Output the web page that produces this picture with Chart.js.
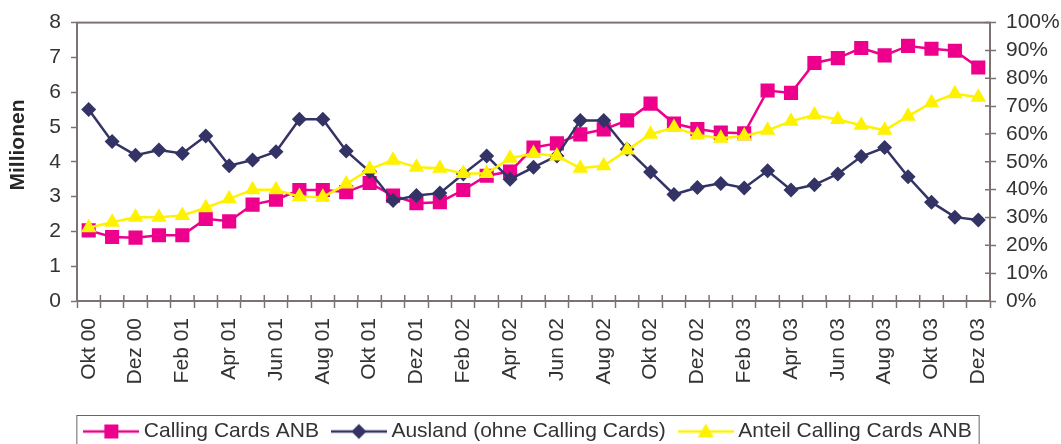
<!DOCTYPE html>
<html>
<head>
<meta charset="utf-8">
<script src="https://cdn.jsdelivr.net/npm/chart.js@4"></script>
<style>
  html, body { margin: 0; padding: 0; background: #fff; }
</style>
</head>
<body>
<canvas id="chart" width="1061" height="444"></canvas>
<script>
const monate = [
  "Okt 00", "Nov 00", "Dez 00",
  "Jan 01", "Feb 01", "Mrz 01", "Apr 01", "Mai 01", "Jun 01", "Jul 01", "Aug 01", "Sep 01", "Okt 01", "Nov 01", "Dez 01",
  "Jan 02", "Feb 02", "Mrz 02", "Apr 02", "Mai 02", "Jun 02", "Jul 02", "Aug 02", "Sep 02", "Okt 02", "Nov 02", "Dez 02",
  "Jan 03", "Feb 03", "Mrz 03", "Apr 03", "Mai 03", "Jun 03", "Jul 03", "Aug 03", "Sep 03", "Okt 03", "Nov 03", "Dez 03"
];

// Millionen
const callingCards = [
  2.03, 1.84, 1.82, 1.89, 1.89, 2.36, 2.29, 2.77, 2.91, 3.19, 3.19, 3.13, 3.39,
  3.03, 2.81, 2.84, 3.19, 3.60, 3.72, 4.41, 4.53, 4.79, 4.93, 5.19, 5.67, 5.10,
  4.94, 4.84, 4.82, 6.05, 5.98, 6.84, 6.98, 7.27, 7.06, 7.33, 7.25, 7.19, 6.71
];
const ausland = [
  5.50, 4.58, 4.19, 4.34, 4.24, 4.74, 3.89, 4.05, 4.29, 5.22, 5.22, 4.31, 3.72,
  2.89, 3.03, 3.10, 3.65, 4.17, 3.50, 3.84, 4.17, 5.19, 5.19, 4.36, 3.71, 3.06,
  3.26, 3.38, 3.25, 3.74, 3.19, 3.34, 3.65, 4.15, 4.41, 3.57, 2.84, 2.41, 2.33
];
// Prozent
const anteil = [
  26.3, 28.3, 30.1, 30.1, 30.7, 33.5, 36.7, 40.0, 40.0, 37.5, 37.3, 42.0, 47.4,
  50.6, 48.0, 47.7, 45.8, 45.8, 51.3, 53.0, 52.1, 47.7, 48.6, 54.2, 59.9, 62.3,
  59.6, 58.5, 59.3, 61.3, 64.6, 66.8, 65.2, 63.1, 61.3, 66.4, 71.2, 74.4, 73.2
];

const yLinks = [0, 1, 2, 3, 4, 5, 6, 7, 8];
const yRechts = ["0%", "10%", "20%", "30%", "40%", "50%", "60%", "70%", "80%", "90%", "100%"];

const PINK = "#ec008c";
const NAVY = "#333366";
const GELB = "#fff200";
const ACHSE = "#7d7272";
const TEXT = "#333333";
const SCHRIFT = "'Liberation Sans', Arial, sans-serif";

function legendSymbol(color, shape) {
  const c = document.createElement("canvas");
  c.width = 56;
  c.height = 20;
  const g = c.getContext("2d");
  g.strokeStyle = color;
  g.lineWidth = 2.5;
  g.beginPath();
  g.moveTo(0, 10);
  g.lineTo(56, 10);
  g.stroke();
  g.fillStyle = color;
  g.beginPath();
  if (shape === "rect") {
    g.rect(21, 3, 14, 14);
  } else if (shape === "diamond") {
    g.moveTo(28, 2.5); g.lineTo(35.5, 10); g.lineTo(28, 17.5); g.lineTo(20.5, 10);
  } else {
    g.moveTo(28, 2); g.lineTo(36, 16); g.lineTo(20, 16);
  }
  g.closePath();
  g.fill();
  return c;
}

const symbole = [
  legendSymbol(PINK, "rect"),
  legendSymbol(NAVY, "diamond"),
  legendSymbol(GELB, "triangle")
];

const rahmen = {
  id: "rahmen",
  beforeDatasetsDraw(chart) {
    const { ctx, chartArea: a, scales } = chart;
    ctx.save();
    ctx.strokeStyle = ACHSE;
    ctx.lineWidth = 2;
    ctx.strokeRect(a.left, a.top, a.right - a.left, a.bottom - a.top);
    // Teilstriche, die in die Zeichenfläche hineinragen
    ctx.lineWidth = 1.5;
    ctx.beginPath();
    const x = scales.x;
    for (let i = 1; i < monate.length; i++) {
      const px = (x.getPixelForTick(i - 1) + x.getPixelForTick(i)) / 2;
      ctx.moveTo(px, a.bottom);
      ctx.lineTo(px, a.bottom - 6);
    }
    const y1 = scales.y1;
    yRechts.forEach((t, i) => {
      const py = y1.getPixelForValue(i * 10);
      ctx.moveTo(a.right, py);
      ctx.lineTo(a.right - 5, py);
    });
    ctx.stroke();
    ctx.restore();
  },
  afterDraw(chart) {
    const ctx = chart.ctx;
    const boxes = chart.legend.legendHitBoxes;
    if (boxes && boxes.length) {
      const left = Math.min(...boxes.map(b => b.left)) - 13;
      const right = Math.max(...boxes.map(b => b.left + b.width)) + 7;
      const top = boxes[0].top - 6;
      ctx.save();
      ctx.strokeStyle = "#666";
      ctx.lineWidth = 1;
      ctx.strokeRect(left + 0.5, top + 0.5, right - left, 60);
      ctx.restore();
    }
    // Achsentitel
    ctx.save();
    ctx.translate(18.5, 145);
    ctx.rotate(-Math.PI / 2);
    ctx.font = "bold 21px " + SCHRIFT;
    ctx.fillStyle = "#262626";
    ctx.textAlign = "center";
    ctx.textBaseline = "middle";
    ctx.fillText("Millionen", 0, 0);
    ctx.restore();
  }
};

new Chart(document.getElementById("chart"), {
  type: "line",
  data: {
    labels: monate,
    datasets: [
      {
        label: "Calling Cards ANB",
        data: callingCards,
        yAxisID: "y",
        borderColor: PINK,
        backgroundColor: PINK,
        borderWidth: 2.5,
        pointStyle: "rect",
        pointRadius: 10,
        pointBorderWidth: 0,
        tension: 0,
        order: 3
      },
      {
        label: "Ausland (ohne Calling Cards)",
        data: ausland,
        yAxisID: "y",
        borderColor: NAVY,
        backgroundColor: NAVY,
        borderWidth: 2.5,
        pointStyle: "rectRot",
        pointRadius: 7.5,
        pointBorderWidth: 0,
        tension: 0,
        order: 2
      },
      {
        label: "Anteil Calling Cards ANB",
        data: anteil,
        yAxisID: "y1",
        borderColor: GELB,
        backgroundColor: GELB,
        borderWidth: 2.5,
        pointStyle: "triangle",
        pointRadius: 9,
        pointBorderWidth: 0,
        tension: 0,
        order: 1
      }
    ]
  },
  options: {
    responsive: false,
    animation: false,
    layout: { padding: { top: 21, left: 0, right: 0, bottom: -8 } },
    plugins: {
      tooltip: { enabled: false },
      legend: {
        position: "bottom",
        labels: {
          usePointStyle: true,
          pointStyleWidth: 44,
          padding: 18,
          color: TEXT,
          font: { size: 21, family: SCHRIFT },
          generateLabels: chart => chart.data.datasets.map((ds, i) => ({
            text: ds.label,
            pointStyle: symbole[i],
            fillStyle: ds.borderColor,
            strokeStyle: ds.borderColor,
            lineWidth: 0,
            fontColor: TEXT,
            hidden: false,
            datasetIndex: i
          }))
        }
      }
    },
    scales: {
      x: {
        offset: true,
        grid: { offset: true, drawOnChartArea: false, tickLength: 7, color: ACHSE, tickWidth: 1.5 },
        border: { color: ACHSE, width: 2 },
        ticks: {
          autoSkip: false,
          minRotation: 90,
          maxRotation: 90,
          padding: 10,
          color: TEXT,
          font: { size: 21, family: SCHRIFT },
          callback: (v, i) => (i % 2 === 0 ? monate[i] : "")
        },
        afterFit: s => { s.height = 102; }
      },
      y: {
        position: "left",
        min: 0,
        max: 8,
        afterBuildTicks: s => { s.ticks = yLinks.map(v => ({ value: v })); },
        grid: { drawOnChartArea: false, tickLength: 6, color: ACHSE, tickWidth: 1.5 },
        border: { color: ACHSE, width: 2 },
        ticks: { autoSkip: false, padding: 10, color: TEXT, font: { size: 21, family: SCHRIFT } },
        afterFit: s => { s.width = 77; }
      },
      y1: {
        position: "right",
        min: 0,
        max: 100,
        afterBuildTicks: s => { s.ticks = yRechts.map((t, i) => ({ value: i * 10 })); },
        grid: { drawOnChartArea: false, tickLength: 6, color: ACHSE, tickWidth: 1.5 },
        border: { color: ACHSE, width: 2 },
        ticks: {
          autoSkip: false,
          padding: 10,
          color: TEXT,
          font: { size: 21, family: SCHRIFT },
          callback: (v, i) => yRechts[i]
        },
        afterFit: s => { s.width = 71; }
      }
    }
  },
  plugins: [rahmen]
});
</script>
</body>
</html>
